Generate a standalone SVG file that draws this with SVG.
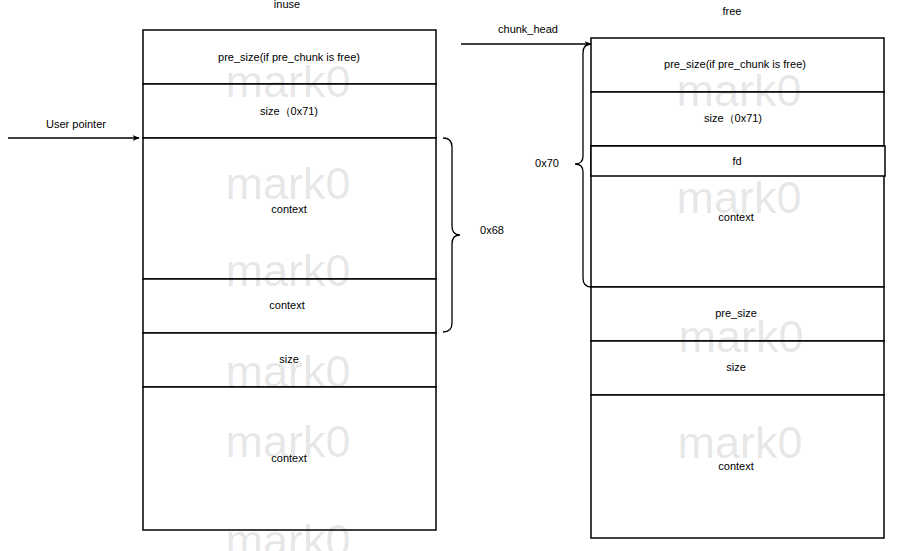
<svg xmlns="http://www.w3.org/2000/svg" width="915" height="551" viewBox="0 0 915 551">
<defs>
<style>
.box{fill:#fff;stroke:#000;stroke-width:1.5}
.t{font-family:"Liberation Sans",Arial,sans-serif;font-size:11px;fill:#000;text-anchor:middle;dominant-baseline:central}
.wm{font-family:"Liberation Sans",Arial,sans-serif;font-size:45px;fill:#000;fill-opacity:0.11;text-anchor:middle}
.ln{fill:none;stroke:#000;stroke-width:1.3}
</style>
<marker id="arr" viewBox="0 0 10 10" refX="9" refY="5" markerWidth="7" markerHeight="7" orient="auto" markerUnits="userSpaceOnUse">
<path d="M0,1 L10,5 L0,9 L2.5,5 Z" fill="#000"/>
</marker>
</defs>
<rect width="915" height="551" fill="#fff"/>
<g id="inuse-chunk">
<g id="l-presize"><rect class="box" x="143" y="30" width="293" height="54"/><text class="t" x="289" y="57">pre_size(if pre_chunk is free)</text></g>
<g id="l-size"><rect class="box" x="143" y="84" width="293" height="54"/><text class="t" x="289" y="111">size（0x71)</text></g>
<g id="l-context1"><rect class="box" x="143" y="138" width="293" height="141"/><text class="t" x="289" y="209">context</text></g>
<g id="l-context2"><rect class="box" x="143" y="279" width="293" height="54"/><text class="t" x="287" y="305">context</text></g>
<g id="l-size2"><rect class="box" x="143" y="333" width="293" height="54"/><text class="t" x="289" y="359">size</text></g>
<g id="l-context3"><rect class="box" x="143" y="387" width="293" height="143"/><text class="t" x="289" y="458">context</text></g>
</g>
<g id="free-chunk">
<g id="r-presize"><rect class="box" x="591" y="38" width="293" height="54"/><text class="t" x="735" y="64">pre_size(if pre_chunk is free)</text></g>
<g id="r-size"><rect class="box" x="591" y="92" width="293" height="54"/><text class="t" x="733" y="118">size（0x71)</text></g>
<g id="r-context"><rect class="box" x="591" y="146" width="293" height="141"/><text class="t" x="736" y="217">context</text></g>
<g id="r-fd"><rect class="box" x="591" y="146" width="294" height="30"/><text class="t" x="737" y="161">fd</text></g>
<g id="r-presize2"><rect class="box" x="591" y="287" width="293" height="54"/><text class="t" x="736" y="313">pre_size</text></g>
<g id="r-size2"><rect class="box" x="591" y="341" width="293" height="54"/><text class="t" x="736" y="367">size</text></g>
<g id="r-context2"><rect class="box" x="591" y="395" width="293" height="143"/><text class="t" x="736" y="466">context</text></g>
</g>
<g id="labels">
<text class="t" x="287" y="4">inuse</text>
<text class="t" x="732" y="11">free</text>
<text class="t" x="528" y="29">chunk_head</text>
<text class="t" x="76" y="124">User pointer</text>
<text class="t" x="547" y="163">0x70</text>
<text class="t" x="492" y="230">0x68</text>
</g>
<g id="connectors">
<path class="ln" d="M8 138 L139 138" marker-end="url(#arr)"/>
<path class="ln" d="M461 44 L591 44" marker-end="url(#arr)"/>
<path class="ln" d="M443 138 Q452 138 452 147 L452 226 Q452 235 460 235 Q452 235 452 244 L452 323 Q452 332 443 332"/>
<path class="ln" d="M591 44 Q583 44 583 53 L583 156 Q583 164 575 164 Q583 164 583 172 L583 278 Q583 287 591 287"/>
</g>
<g id="watermarks">
<text class="wm" x="288" y="97">mark0</text>
<text class="wm" x="288" y="199">mark0</text>
<text class="wm" x="288" y="286">mark0</text>
<text class="wm" x="288" y="387">mark0</text>
<text class="wm" x="288" y="457">mark0</text>
<text class="wm" x="288" y="556">mark0</text>
<text class="wm" x="739" y="106">mark0</text>
<text class="wm" x="739" y="213">mark0</text>
<text class="wm" x="741" y="352">mark0</text>
<text class="wm" x="740" y="458">mark0</text>
</g>
</svg>
